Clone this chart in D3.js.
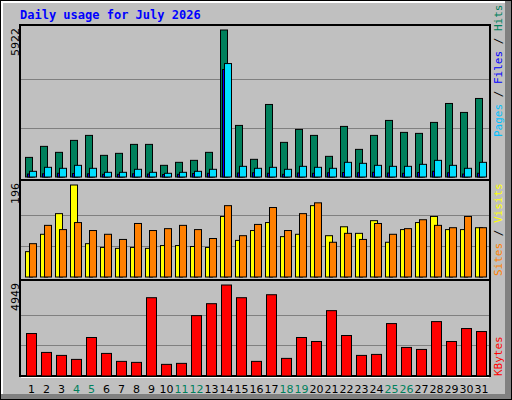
<!DOCTYPE html>
<html><head><meta charset="utf-8">
<script src="https://cdn.jsdelivr.net/npm/d3@7"></script>
<style>body{margin:0;background:#fff}</style></head>
<body><svg id="c" width="512" height="400"></svg>
<script>
const days = d3.range(1,32);
const weekend = [4,5,11,12,18,19,25,26];
const hits = [790,1234,993,1475,1676,872,953,1314,1314,470,591,671,993,5922,2078,712,2922,1395,1917,1676,832,2038,1113,1676,2279,1797,1757,2199,2962,2601,3164];
const files = [229,390,350,470,350,189,189,310,189,149,189,229,310,4570,430,350,390,310,430,390,350,591,551,470,430,430,510,671,470,350,591];
const pages = [120,130,150,140,130,110,110,130,120,100,110,140,150,4330,160,170,150,110,160,150,170,180,170,190,160,150,180,230,170,120,150];
const visits = [54,91,135,196,71,63,61,63,61,67,67,65,63,129,78,99,116,86,91,152,88,107,93,120,74,101,116,129,101,101,105];
const sites = [71,110,101,116,99,91,80,114,99,103,110,101,82,152,88,112,148,99,135,158,74,93,80,114,91,103,122,110,105,129,105];
const kbytes = [2310,1282,1120,903,2094,1228,795,741,4258,633,687,3284,3933,4949,4258,795,4420,958,2094,1877,3554,2202,1120,1174,2851,1553,1444,2959,1877,2581,2418];

const svg = d3.select("#c");
// frame
svg.append("rect").attr("x",0).attr("y",0).attr("width",512).attr("height",400).attr("fill","#000");
svg.append("rect").attr("x",1).attr("y",1).attr("width",510).attr("height",398).attr("fill","#808080");
svg.append("rect").attr("x",1).attr("y",1).attr("width",504).attr("height",393).attr("fill","#fff");
svg.append("rect").attr("x",3).attr("y",3).attr("width",502).attr("height",391).attr("fill","#c0c0c0");

svg.append("text").attr("x",20).attr("y",19).text("Daily usage for July 2026")
  .attr("font-family","DejaVu Sans Mono").attr("font-weight","bold").attr("font-size",12).attr("fill","#0000ff");

const x = d3.scaleLinear().domain([1,32]).range([25,490]);
const L=20, R=490;
function panel(y0,y1,base,topPx,max){
  svg.append("rect").attr("x",L).attr("y",y0).attr("width",R-L).attr("height",y1-y0)
    .attr("fill","#c0c0c0").attr("stroke","#000").attr("stroke-width",2);
  svg.append("line").attr("x1",L+1).attr("x2",R-1).attr("y1",y1+1.5).attr("y2",y1+1.5).attr("stroke","#fff");
  const y = d3.scaleLinear().domain([0,max]).range([base,topPx]);
  [1/3,2/3].forEach(f=>svg.append("line").attr("x1",L+1).attr("x2",R-1)
    .attr("y1",Math.round(y(max*f))+0.5).attr("y2",Math.round(y(max*f))+0.5).attr("stroke","#808080"));
  return y;
}
function bars(data,y,dx,w,color){
  svg.append("g").selectAll("rect").data(data).join("rect")
    .attr("x",(d,i)=>x(i+1)+dx+0.5).attr("width",w)
    .attr("y",d=>y(d)+0.5).attr("height",d=>Math.max(0,y(0)-y(d)))
    .attr("fill",color).attr("stroke","#000").attr("stroke-width",1);
}
function vlabel(txt,xp,yp){
  svg.append("text").attr("transform",`translate(${xp},${yp}) rotate(-90)`).attr("text-anchor","end")
    .attr("font-family","DejaVu Sans").attr("font-size",11).attr("fill","#000").text(txt);
}
function rlabel(parts,yp){
  const t=svg.append("text").attr("transform",`translate(496,${yp}) rotate(90)`).attr("text-anchor","end")
    .attr("font-family","DejaVu Sans Mono").attr("font-size",11);
  // rotated 90 reads top-down; we need bottom-up so use -90
  t.attr("transform",`translate(502,${yp}) rotate(-90)`).attr("text-anchor","start");
  parts.forEach(p=>t.append("tspan").attr("fill",p[1]).text(p[0]));
}

const y1 = panel(25,180,176.5,29.5,5922);
bars(hits,y1,0,7,"#00805c");
bars(pages,y1,2,7,"#0000ff");
bars(files,y1,4,7,"#00e0ff");
vlabel("5922",19,28);
rlabel([["Pages","#00c0ff"],[" / ","#000"],["Files","#0000ff"],[" / ","#000"],["Hits","#00805c"]],137);

const y2 = panel(180,280,276.5,184.5,196);
bars(visits,y2,0,7,"#ffff00");
bars(sites,y2,4,7,"#ff8000");
vlabel("196",19,183);
rlabel([["Sites","#ff8000"],[" / ","#000"],["Visits","#ffff00"]],276);

const y3 = panel(280,376,375.5,284.5,4949);
bars(kbytes,y3,1,10,"#ff0000");
vlabel("4949",19,283);
rlabel([["KBytes","#ff0000"]],376);

svg.append("g").selectAll("text").data(days).join("text")
  .attr("x",d=>x(d)+6.5).attr("y",393).attr("text-anchor","middle")
  .attr("font-family","DejaVu Sans").attr("font-size",11)
  .attr("fill",d=>weekend.includes(d)?"#00805c":"#000").text(d=>d);
</script></body></html>
